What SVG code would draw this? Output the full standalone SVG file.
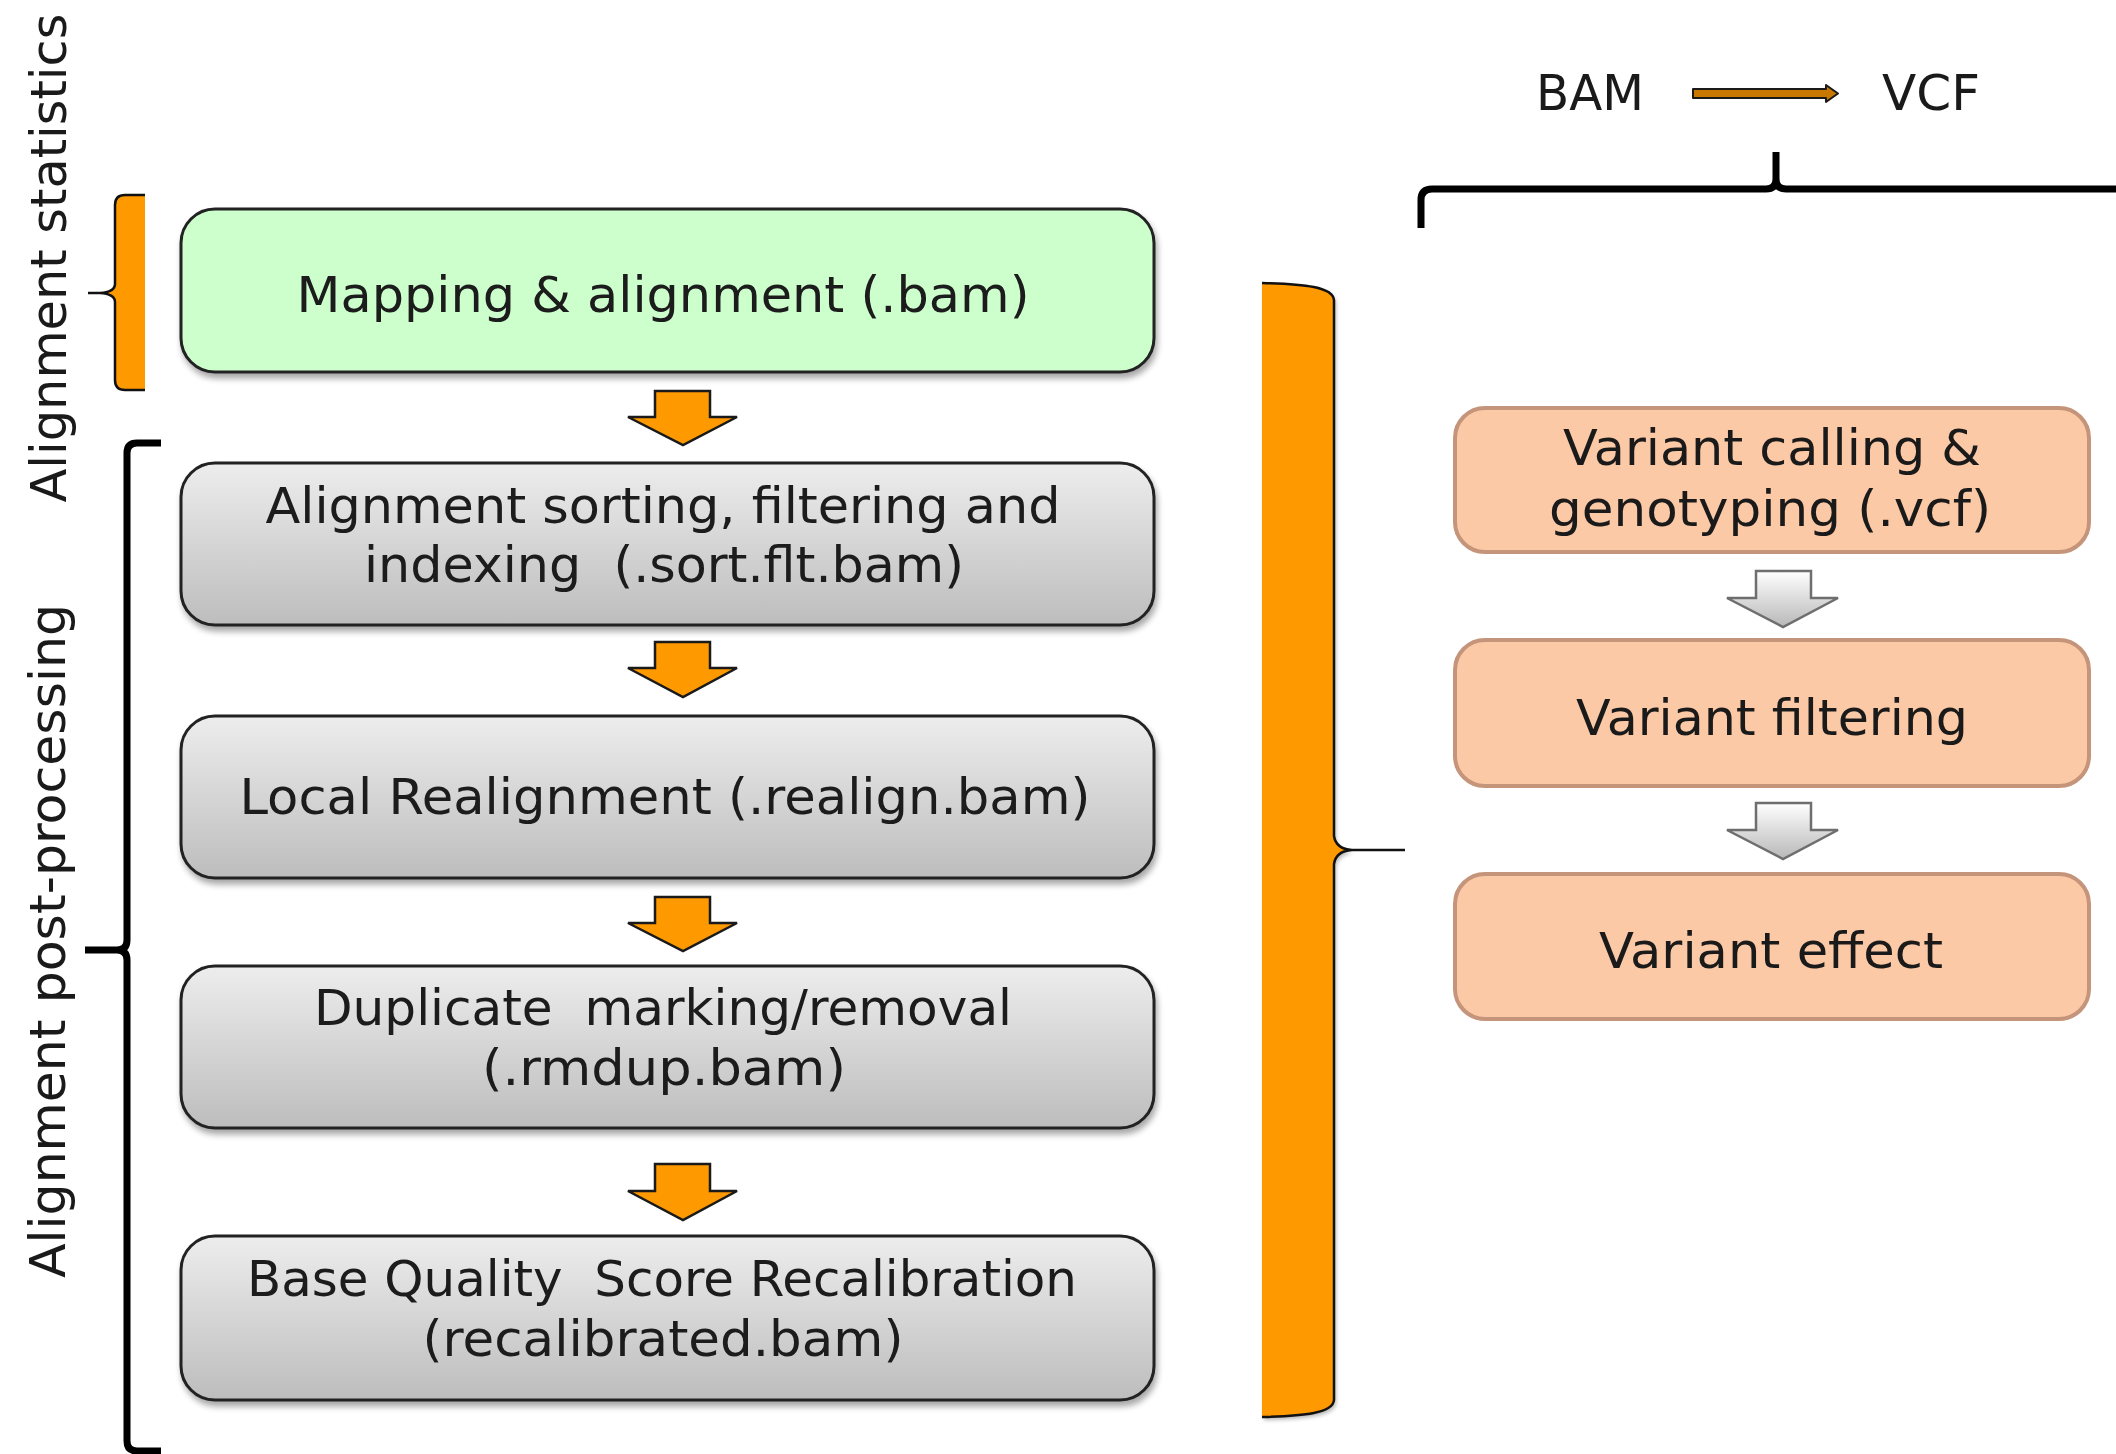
<svg xmlns="http://www.w3.org/2000/svg" width="2116" height="1454" viewBox="0 0 2116 1454">
<defs>
  <linearGradient id="gGray" x1="0" y1="0" x2="0" y2="1">
    <stop offset="0" stop-color="#EDEDED"/>
    <stop offset="1" stop-color="#BDBDBD"/>
  </linearGradient>
  <linearGradient id="gArrow" x1="0" y1="0" x2="0" y2="1">
    <stop offset="0" stop-color="#FFFFFF"/>
    <stop offset="1" stop-color="#B8B8B8"/>
  </linearGradient>
  <filter id="shadow" x="-5%" y="-10%" width="110%" height="125%">
    <feGaussianBlur in="SourceAlpha" stdDeviation="3"/>
    <feOffset dx="2" dy="5" result="b"/>
    <feComponentTransfer><feFuncA type="linear" slope="0.35"/></feComponentTransfer>
    <feMerge><feMergeNode/><feMergeNode in="SourceGraphic"/></feMerge>
  </filter>
  <filter id="soft" x="-10%" y="-10%" width="120%" height="120%">
    <feGaussianBlur in="SourceAlpha" stdDeviation="2"/>
    <feOffset dx="2" dy="3" result="b"/>
    <feComponentTransfer><feFuncA type="linear" slope="0.3"/></feComponentTransfer>
    <feMerge><feMergeNode/><feMergeNode in="SourceGraphic"/></feMerge>
  </filter>
</defs>
<style>
  text { font-family: "DejaVu Sans", Verdana, sans-serif; font-size: 50px; fill: #1a1a1a; text-anchor: middle; }
  .box { stroke: #222222; stroke-width: 3; }
  .green { fill: #CCFFCC; }
  .gray { fill: url(#gGray); }
  .salmon { fill: #FCC9A6; stroke: #C4947B; stroke-width: 4; }
  .oarrow { fill: #FF9900; stroke: #1a1a1a; stroke-width: 2.5; stroke-linejoin: miter; }
  .garrow { fill: url(#gArrow); stroke: #6e6e6e; stroke-width: 2.5; }
  .brace-fill { fill: #FF9900; stroke: none; }
  .brace-line { fill: none; stroke: #111111; stroke-width: 2.5; }
  .black-brace { fill: none; stroke: #000000; stroke-width: 7; stroke-linejoin: round; }
</style>
<rect width="2116" height="1454" fill="#FFFFFF"/>

<!-- side labels -->
<g id="label-alignment-statistics">
  <text transform="translate(66 258) rotate(-90)" x="0" y="0" textLength="489" lengthAdjust="spacingAndGlyphs">Alignment statistics</text>
</g>
<g id="label-alignment-post-processing">
  <text transform="translate(65 941) rotate(-90)" x="0" y="0" textLength="674" lengthAdjust="spacingAndGlyphs">Alignment post-processing</text>
</g>

<!-- small orange brace -->
<g id="brace-statistics">
  <path class="brace-fill" d="M145 195 L125 195 Q115 195 115 205 L115 284 Q115 292 100 293 L88 293 L100 293 Q115 294 115 302 L115 380 Q115 390 125 390 L145 390 Z"/>
  <path class="brace-line" d="M145 195 L125 195 Q115 195 115 205 L115 284 Q115 292 100 293 L88 293 M100 293 Q115 294 115 302 L115 380 Q115 390 125 390 L145 390"/>
</g>

<!-- black brace for post-processing -->
<g id="brace-post-processing">
  <path class="black-brace" d="M161 443 L137 443 Q127 443 127 453 L127 940 Q127 950 117 950 L85 950 M117 950 Q127 950 127 960 L127 1441 Q127 1451 137 1451 L161 1451"/>
</g>

<!-- big orange brace -->
<g id="brace-bam-to-vcf">
  <path class="brace-fill" filter="url(#soft)" d="M1262 283 C1305 284 1333 287 1334 300 L1334 836 Q1336 849 1352 850 L1405 850 L1352 850 Q1336 851 1334 864 L1334 1400 C1333 1413 1305 1416 1262 1417 Z"/>
  <path class="brace-line" d="M1262 283 C1305 284 1333 287 1334 300 L1334 836 Q1336 849 1352 850 L1405 850 M1352 850 Q1336 851 1334 864 L1334 1400 C1333 1413 1305 1416 1262 1417"/>
</g>

<!-- top black brace -->
<g id="brace-top">
  <path class="black-brace" stroke-width="6" d="M1421 228 L1421 200 Q1421 189 1432 189 L1766 189 Q1776 189 1776 179 L1776 152 M1776 179 Q1776 189 1786 189 L2125 189"/>
</g>

<!-- BAM -> VCF legend -->
<g id="legend-bam">
  <text x="1590" y="110" textLength="108" lengthAdjust="spacingAndGlyphs">BAM</text>
</g>
<g id="legend-vcf">
  <text x="1931" y="110" textLength="98" lengthAdjust="spacingAndGlyphs">VCF</text>
</g>

<!-- left column nodes -->
<g id="node-mapping" filter="url(#shadow)">
  <rect class="box green" x="181" y="209" width="973" height="163" rx="34"/>
  <text x="663" y="312" textLength="733" lengthAdjust="spacingAndGlyphs">Mapping &amp; alignment (.bam)</text>
</g>
<g id="node-sorting" filter="url(#shadow)">
  <rect class="box gray" x="181" y="463" width="973" height="162" rx="34"/>
  <text x="663" y="523" textLength="795" lengthAdjust="spacingAndGlyphs">Alignment sorting, filtering and</text>
  <text x="664" y="582" textLength="600" lengthAdjust="spacingAndGlyphs" xml:space="preserve">indexing  (.sort.flt.bam)</text>
</g>
<g id="node-realign" filter="url(#shadow)">
  <rect class="box gray" x="181" y="716" width="973" height="162" rx="34"/>
  <text x="665" y="814" textLength="851" lengthAdjust="spacingAndGlyphs">Local Realignment (.realign.bam)</text>
</g>
<g id="node-duplicate" filter="url(#shadow)">
  <rect class="box gray" x="181" y="966" width="973" height="162" rx="34"/>
  <text x="663" y="1025" textLength="698" lengthAdjust="spacingAndGlyphs" xml:space="preserve">Duplicate  marking/removal</text>
  <text x="664" y="1085" textLength="364" lengthAdjust="spacingAndGlyphs">(.rmdup.bam)</text>
</g>
<g id="node-bqsr" filter="url(#shadow)">
  <rect class="box gray" x="181" y="1236" width="973" height="164" rx="34"/>
  <text x="662" y="1296" textLength="830" lengthAdjust="spacingAndGlyphs" xml:space="preserve">Base Quality  Score Recalibration</text>
  <text x="663" y="1356" textLength="481" lengthAdjust="spacingAndGlyphs">(recalibrated.bam)</text>
</g>

<!-- right column nodes -->
<g id="node-calling">
  <rect class="salmon" x="1455" y="408" width="634" height="144" rx="30"/>
  <text x="1772" y="465" textLength="418" lengthAdjust="spacingAndGlyphs">Variant calling &amp;</text>
  <text x="1770" y="526" textLength="442" lengthAdjust="spacingAndGlyphs">genotyping (.vcf)</text>
</g>
<g id="node-filtering">
  <rect class="salmon" x="1455" y="640" width="634" height="146" rx="30"/>
  <text x="1772" y="735" textLength="392" lengthAdjust="spacingAndGlyphs">Variant filtering</text>
</g>
<g id="node-effect">
  <rect class="salmon" x="1455" y="874" width="634" height="145" rx="30"/>
  <text x="1771" y="968" textLength="344" lengthAdjust="spacingAndGlyphs">Variant effect</text>
</g>

<!-- connectors -->
<g id="connectors">
  <polygon class="oarrow" points="655,391 710,391 710,417 737,417 683,445 628,417 655,417"/>
  <polygon class="oarrow" points="655,642 710,642 710,668 737,668 683,697 628,668 655,668"/>
  <polygon class="oarrow" points="655,897 710,897 710,923 737,923 683,951 628,923 655,923"/>
  <polygon class="oarrow" points="655,1164 710,1164 710,1191 737,1191 683,1220 628,1191 655,1191"/>
  <polygon class="garrow" points="1756,571 1811,571 1811,598 1838,598 1783,627 1727,598 1756,598"/>
  <polygon class="garrow" points="1756,803 1811,803 1811,830 1838,830 1783,859 1727,830 1756,830"/>
  <polygon fill="#C87800" stroke="#1a1a1a" stroke-width="2" stroke-linejoin="round" points="1693,89 1826,89 1826,85 1838,93.5 1826,102 1826,98 1693,98"/>
</g>
</svg>
